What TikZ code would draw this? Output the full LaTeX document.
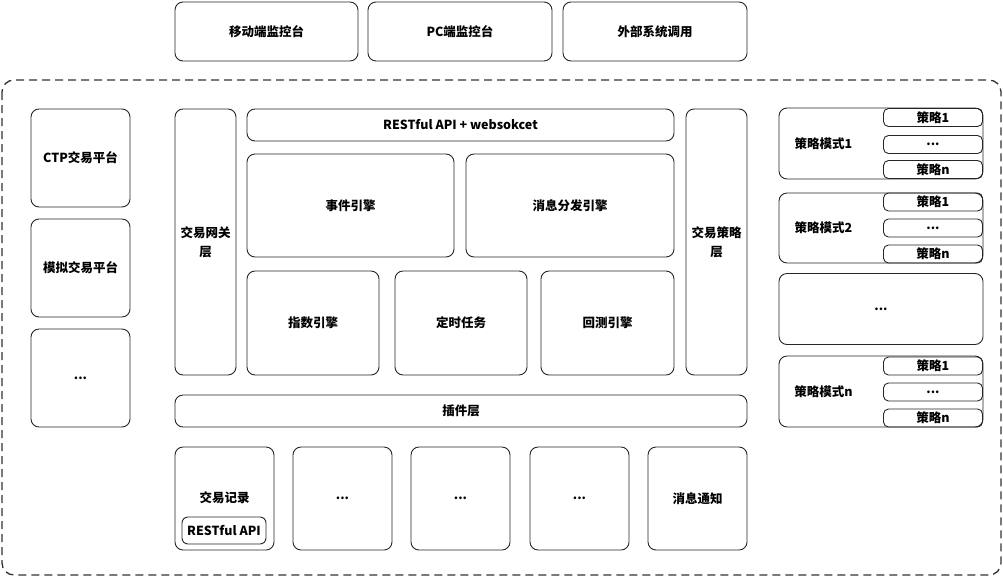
\documentclass[tikz,border=0pt]{standalone}
\usepackage{fontspec}
\setmainfont{Noto Sans CJK SC}

\tikzstyle{box} = [draw=black!85, rounded corners=8pt, line width=0.9pt, inner sep=0pt, align=center, font=\bfseries\fontsize{12.5}{19}\selectfont]
\tikzstyle{sub} = [box, rounded corners=5pt, minimum width=99pt, minimum height=18pt]
\tikzstyle{tag} = [inner sep=0pt, font=\bfseries\fontsize{12.5}{15}\selectfont]

\begin{document}
\begin{tikzpicture}[x=1pt, y=-1pt]
\useasboundingbox (0,0) rectangle (1003,576);

% clients
\node[box, minimum width=183pt, minimum height=59pt] (mobile) at (266.5,31.5) {移动端监控台};
\node[box, minimum width=184pt, minimum height=59pt] (pc) at (460,31.5) {PC端监控台};
\node[box, minimum width=184pt, minimum height=59pt] (ext) at (655,31.5) {外部系统调用};

% system border
\draw[black!80, line width=1.3pt, dash pattern=on 8pt off 5pt, rounded corners=12pt] (2,80) rectangle (1001,575);

% platforms
\node[box, minimum width=99pt, minimum height=98pt] (ctp) at (80.5,158) {CTP交易平台};
\node[box, minimum width=99pt, minimum height=98pt] (sim) at (80.5,268) {模拟交易平台};
\node[box, minimum width=99pt, minimum height=98pt] (plat) at (80.5,378) {...};

% core
\node[box, minimum width=61pt, minimum height=266pt] (gate) at (205.5,242) {交易网关\\层};
\node[box, minimum width=427pt, minimum height=32pt] (rest) at (460.5,125) {RESTful API + websokcet};
\node[box, minimum width=207pt, minimum height=103pt] (event) at (350.5,205.5) {事件引擎};
\node[box, minimum width=208pt, minimum height=103pt] (msg) at (570,205.5) {消息分发引擎};
\node[box, minimum width=132pt, minimum height=104pt] (index) at (313,323) {指数引擎};
\node[box, minimum width=132pt, minimum height=104pt] (timer) at (461,323) {定时任务};
\node[box, minimum width=133pt, minimum height=104pt] (back) at (607.5,323) {回测引擎};
\node[box, minimum width=61pt, minimum height=266pt] (strat) at (716.5,242) {交易策略\\层};
\node[box, minimum width=572pt, minimum height=32pt] (plugin) at (461,411) {插件层};

% plugins
\node[box, minimum width=99pt, minimum height=103pt] (record) at (224.5,498.5) {};
\node[tag] (recordlbl) at (224.5,498) {交易记录};
\node[box, rounded corners=6pt, minimum width=84pt, minimum height=27pt] (api) at (224,530.5) {RESTful API};
\node[box, minimum width=99pt, minimum height=103pt] (plugA) at (342.5,498.5) {...};
\node[box, minimum width=99pt, minimum height=103pt] (plugB) at (460.5,498.5) {...};
\node[box, minimum width=99pt, minimum height=103pt] (plugC) at (579.5,498.5) {...};
\node[box, minimum width=99pt, minimum height=103pt] (notify) at (697.5,498.5) {消息通知};

% strategy modes
\node[box, minimum width=204pt, minimum height=71pt] (mode1) at (881,143.5) {};
\node[tag] (mode1lbl) at (823.5,144) {策略模式1};
\node[sub] (m1s1) at (933,117.5) {策略1};
\node[sub] (m1s2) at (933,144.5) {...};
\node[sub] (m1s3) at (933,169.5) {策略n};

\node[box, minimum width=204pt, minimum height=70pt] (mode2) at (881,228) {};
\node[tag] (mode2lbl) at (823.5,228) {策略模式2};
\node[sub] (m2s1) at (933,202) {策略1};
\node[sub] (m2s2) at (933,228) {...};
\node[sub] (m2s3) at (933,254) {策略n};

\node[box, minimum width=204pt, minimum height=71pt] (modes) at (881,309) {...};

\node[box, minimum width=204pt, minimum height=71pt] (moden) at (881,391.5) {};
\node[tag] (modenlbl) at (823.5,392) {策略模式n};
\node[sub] (mns1) at (933,366) {策略1};
\node[sub] (mns2) at (933,392) {...};
\node[sub] (mns3) at (933,418) {策略n};

\end{tikzpicture}
\end{document}
